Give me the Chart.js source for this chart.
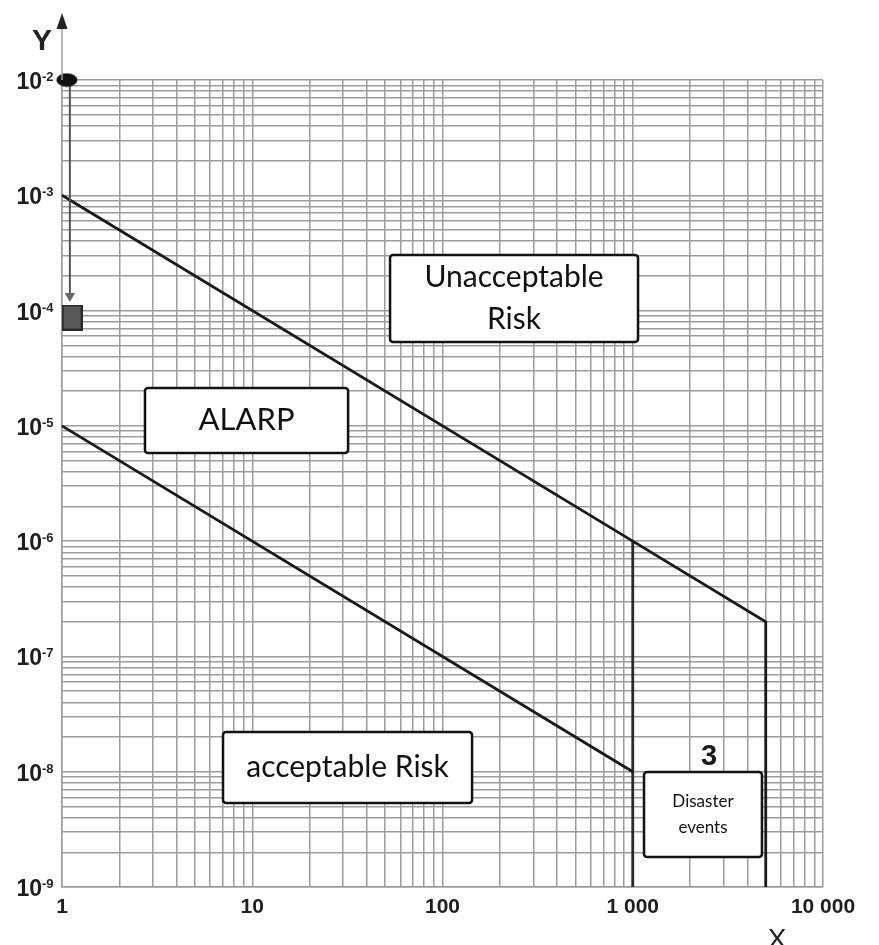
<!DOCTYPE html>
<html><head><meta charset="utf-8">
<script src="https://cdn.jsdelivr.net/npm/chart.js@4.4.1/dist/chart.umd.min.js"></script>
<style>html,body{margin:0;padding:0;background:#fff;}#wrap{width:879px;height:945px;}</style>
</head><body><div id="wrap"><canvas id="c" width="879" height="945"></canvas></div>
<script>
// ---- data ----
const xMajorTicks = [1, 10, 100, 1000, 10000];
const xTickLabels = ['1', '10', '100', '1 000', '10 000'];
const yExponents = [-2, -3, -4, -5, -6, -7, -8, -9];
const yTickBase = '10';
const yTickExponentLabels = ['-2', '-3', '-4', '-5', '-6', '-7', '-8', '-9'];
const xAxisTitle = 'X';
const yAxisTitle = 'Y';

const upperLimitX = [1, 1000, 5000, 5000];
const upperLimitY = [1e-3, 1e-6, 2e-7, 1e-9];
const lowerLimitX = [1, 1000];
const lowerLimitY = [1e-5, 1e-8];
const disasterEdgeX = [1000, 1000];
const disasterEdgeY = [1e-6, 1e-9];
const arrowX = [1.10, 1.10];
const arrowY = [1e-2, 1.34e-4];
const initialRiskX = [1.06];
const initialRiskY = [1e-2];
const reducedRiskX = [1.13];
const reducedRiskY = [8.7e-5];

const regionLabels = ['Unacceptable\nRisk', 'ALARP', 'acceptable Risk', 'Disaster\nevents'];
const eventCountLabel = '3';

// ---- layout of annotation boxes (data coordinates) ----
const boxLayout = [
  {x1: 53, x2: 1066, y1: 3.03e-4, y2: 5.33e-5, font: 30, lh: 42},
  {x1: 2.73, x2: 31.9, y1: 2.13e-5, y2: 5.82e-6, font: 31, lh: 36},
  {x1: 7.02, x2: 143, y1: 2.21e-8, y2: 5.36e-9, font: 30, lh: 36},
  {x1: 1146, x2: 4777, y1: 9.95e-9, y2: 1.82e-9, font: 17, lh: 26}
];

const toPts = (xs, ys) => xs.map((v, i) => ({x: v, y: ys[i]}));

function makeEllipse() {
  const c = document.createElement('canvas'); c.width = 22; c.height = 15;
  const g = c.getContext('2d'); g.fillStyle = '#111';
  g.beginPath(); g.ellipse(11, 7.5, 10.5, 6.8, 0, 0, Math.PI * 2); g.fill();
  return c;
}
function makeSquare() {
  const c = document.createElement('canvas'); c.width = 21; c.height = 26;
  const g = c.getContext('2d'); g.fillStyle = '#595959'; g.fillRect(0, 0, 21, 26);
  g.strokeStyle = '#2a2a2a'; g.lineWidth = 2; g.strokeRect(1, 1, 19, 24);
  return c;
}

const GRID = '#9c9c9c';
const LINE = '#1a1a1a';
const SANS = '"Liberation Sans", Arial, sans-serif';

const overlay = {
  id: 'overlay',
  afterDraw(chart) {
    const {ctx, scales: {x, y}, chartArea: ca} = chart;
    ctx.save();
    // y axis extension and arrow
    ctx.strokeStyle = GRID; ctx.lineWidth = 1.5;
    ctx.beginPath(); ctx.moveTo(ca.left, ca.top); ctx.lineTo(ca.left, 26); ctx.stroke();
    ctx.fillStyle = '#222';
    ctx.beginPath(); ctx.moveTo(ca.left, 13); ctx.lineTo(ca.left - 5.5, 29); ctx.lineTo(ca.left + 5.5, 29); ctx.closePath(); ctx.fill();
    // axis titles
    ctx.fillStyle = '#222';
    ctx.font = 'bold 30px ' + SANS;
    ctx.textAlign = 'center'; ctx.textBaseline = 'middle';
    ctx.fillText(yAxisTitle, 42, 42);
    ctx.font = '28px ' + SANS;
    ctx.fillText(xAxisTitle, 777, 940);
    // y tick labels 10^e
    yExponents.forEach((e, i) => {
      const py = y.getPixelForValue(Math.pow(10, e));
      ctx.fillStyle = '#1e1e1e';
      ctx.font = 'bold 23px ' + SANS;
      ctx.textAlign = 'right'; ctx.textBaseline = 'alphabetic';
      ctx.fillText(yTickBase, 42, py + 9);
      ctx.font = 'bold 13px ' + SANS;
      ctx.textAlign = 'left';
      ctx.fillText(yTickExponentLabels[i], 42, py + 1);
    });
    // annotation boxes
    boxLayout.forEach((b, i) => {
      const L = x.getPixelForValue(b.x1), R = x.getPixelForValue(b.x2);
      const T = y.getPixelForValue(b.y1), B = y.getPixelForValue(b.y2);
      ctx.fillStyle = '#fff'; ctx.strokeStyle = '#111'; ctx.lineWidth = 2.5;
      ctx.beginPath(); ctx.roundRect(L, T, R - L, B - T, 3); ctx.fill(); ctx.stroke();
      const lines = regionLabels[i].split('\n');
      ctx.fillStyle = '#111';
      ctx.font = b.font + 'px Lato, "Open Sans", sans-serif';
      ctx.textAlign = 'center'; ctx.textBaseline = 'middle';
      const cx = (L + R) / 2, cy = (T + B) / 2;
      lines.forEach((t, k) => ctx.fillText(t, cx, cy + (k - (lines.length - 1) / 2) * b.lh));
    });
    // event count above disaster box
    const d = boxLayout[3];
    const dcx = (x.getPixelForValue(d.x1) + x.getPixelForValue(d.x2)) / 2;
    ctx.fillStyle = '#1a1a1a';
    ctx.font = 'bold 29px ' + SANS;
    ctx.textAlign = 'center'; ctx.textBaseline = 'alphabetic';
    ctx.fillText(eventCountLabel, dcx + 6, y.getPixelForValue(d.y1) - 7);
    ctx.restore();
  }
};

const lineDs = (label, pts, color, width) => ({
  label, data: pts, showLine: true, borderColor: color, borderWidth: width,
  pointRadius: 0, fill: false, tension: 0, clip: false
});

new Chart(document.getElementById('c'), {
  type: 'scatter',
  data: {
    datasets: [
      {label: 'Initial risk', data: toPts(initialRiskX, initialRiskY), pointStyle: makeEllipse(), pointRadius: 10, clip: false, order: 0},
      {label: 'Reduced risk', data: toPts(reducedRiskX, reducedRiskY), pointStyle: makeSquare(), pointRadius: 10, clip: false, order: 0},
      Object.assign(lineDs('Risk reduction', toPts(arrowX, arrowY), '#555', 2), {
        pointRadius: [0, 6], pointStyle: 'triangle', pointRotation: 180,
        pointBackgroundColor: '#666', pointBorderColor: '#666', pointBorderWidth: 0, order: 1
      }),
      Object.assign(lineDs('Upper limit', toPts(upperLimitX, upperLimitY), LINE, 2.8), {order: 2}),
      Object.assign(lineDs('Lower limit', toPts(lowerLimitX, lowerLimitY), LINE, 2.8), {order: 2}),
      Object.assign(lineDs('Disaster edge', toPts(disasterEdgeX, disasterEdgeY), '#2a2a2a', 2.8), {order: 2})
    ]
  },
  options: {
    responsive: false, animation: false, devicePixelRatio: 1,
    layout: {padding: {top: 80, right: 56, left: 0, bottom: 0}},
    plugins: {legend: {display: false}, tooltip: {enabled: false}},
    scales: {
      x: {
        type: 'logarithmic', min: 1, max: 10000,
        afterFit(s) { s.height = 58; },
        afterBuildTicks(s) {
          const t = [];
          for (let e = 0; e < 4; e++) for (let m = 1; m < 10; m++) t.push({value: m * Math.pow(10, e)});
          t.push({value: 10000});
          s.ticks = t;
        },
        grid: {color: GRID, lineWidth: 1.5, drawTicks: false},
        border: {display: true, color: GRID, width: 1.5},
        ticks: {
          autoSkip: false, maxRotation: 0, padding: 8, color: '#1e1e1e',
          font: {family: SANS, size: 21, weight: 'bold'},
          callback(v) { const i = xMajorTicks.indexOf(v); return i >= 0 ? xTickLabels[i] : ''; }
        }
      },
      y: {
        type: 'logarithmic', min: 1e-9, max: 1e-2,
        afterFit(s) { s.width = 62; },
        afterBuildTicks(s) {
          const t = [];
          for (let e = -9; e < -2; e++) for (let m = 1; m < 10; m++) t.push({value: m * Math.pow(10, e)});
          t.push({value: 1e-2});
          s.ticks = t;
        },
        grid: {color: GRID, lineWidth: 1.5, drawTicks: false},
        border: {display: true, color: GRID, width: 1.5},
        ticks: {display: false}
      }
    }
  },
  plugins: [overlay]
});
</script></body></html>
